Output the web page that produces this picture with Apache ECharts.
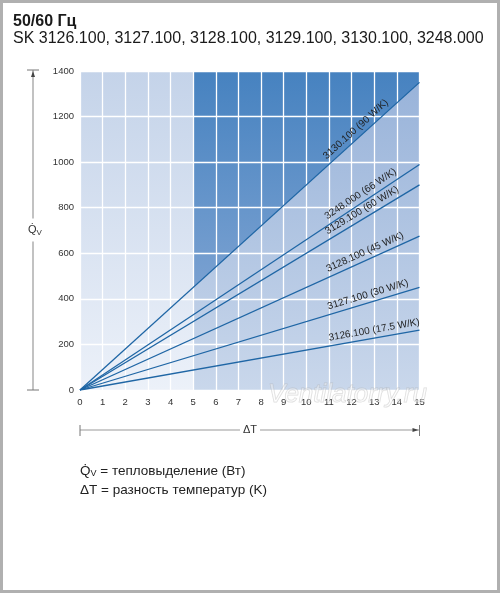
<!DOCTYPE html>
<html><head><meta charset="utf-8">
<script src="https://cdn.jsdelivr.net/npm/echarts@6/dist/echarts.min.js"></script>
<style>html,body{margin:0;padding:0;background:#fff}#c{width:500px;height:593px}</style>
</head><body><div id="c"></div>
<script>
// ---- data ----
const deltaTRange = [0, 15];                      // ΔT (K)
const modelNames = ['3126.100', '3127.100', '3128.100', '3129.100', '3248.000', '3130.100'];
const wattsPerKelvin = ['17.5', '30', '45', '60', '66', '90'];
const heatAtStart = [0, 0, 0, 0, 0, 0];          // Q̇v at ΔT = 0
const heatAtEnd = [262.5, 450, 675, 900, 990, 1350]; // Q̇v at ΔT = 15
const darkZoneEdge = [[5, 450], [15, 1350]];      // upper dark zone, bounded by 3130.100 line
const xTicks = [0, 1, 2, 3, 4, 5, 6, 7, 8, 9, 10, 11, 12, 13, 14, 15];
const yTicks = [0, 200, 400, 600, 800, 1000, 1200, 1400];
const labelDeltaT = 11.05;

const FONT = "'Liberation Sans', Arial, Helvetica, sans-serif";
const LINE_COLOR = '#1f66a5';
const chart = echarts.init(document.getElementById('c'), null, {renderer: 'canvas'});

function grad(c0, c1) {
  return {type: 'linear', x: 0, y: 0, x2: 0, y2: 1, colorStops: [{offset: 0, color: c0}, {offset: 1, color: c1}]};
}

function buildOption(angles, px) {
  const lineSeries = modelNames.map((name, i) => ({
    type: 'line', name: name, z: 4, silent: true, symbol: 'none',
    data: [[deltaTRange[0], heatAtStart[i]], [deltaTRange[1], heatAtEnd[i]]],
    lineStyle: {color: LINE_COLOR, width: 1.3},
    markPoint: {
      symbol: 'circle', symbolSize: 0, z: 6, silent: true,
      data: [{
        coord: [labelDeltaT, heatAtStart[i] + (heatAtEnd[i] - heatAtStart[i]) * (labelDeltaT - deltaTRange[0]) / (deltaTRange[1] - deltaTRange[0])],
        label: {
          show: true, position: [0, 0], align: 'left', verticalAlign: 'bottom',
          rotate: angles[i], padding: [0, 0, 3, 0],
          formatter: name + ' (' + wattsPerKelvin[i] + ' W/K)',
          fontFamily: FONT, fontSize: 10, color: '#1e1e1e'
        }
      }]
    }
  }));

  const graphics = [
    {type: 'rect', shape: {x: 1.5, y: 1.5, width: 497, height: 590}, style: {fill: 'none', stroke: '#b0b0b0', lineWidth: 3}, z: 100}
  ];
  if (px) {
    const ax = 33, top = px.yTop - 1, bot = px.y0;
    const g = '#999';
    graphics.push(
      {type: 'line', shape: {x1: ax, y1: top, x2: ax, y2: bot}, style: {stroke: g, lineWidth: 1.2}},
      {type: 'line', shape: {x1: ax - 6, y1: top, x2: ax + 6, y2: top}, style: {stroke: '#777', lineWidth: 1}},
      {type: 'line', shape: {x1: ax - 6, y1: bot, x2: ax + 6, y2: bot}, style: {stroke: '#777', lineWidth: 1}},
      {type: 'polygon', shape: {points: [[ax, top + 1], [ax - 2, top + 7], [ax + 2, top + 7]]}, style: {fill: '#444'}},
      {type: 'text', x: ax + 2, y: 230, style: {
        text: '{q|Q̇}{s|V}', align: 'center', verticalAlign: 'middle', backgroundColor: '#fff', padding: [5, 2, 5, 2],
        rich: {q: {fontFamily: FONT, fontSize: 11, fill: '#333'}, s: {fontFamily: FONT, fontSize: 8, fill: '#333', padding: [5, 0, 0, 0]}}
      }},
      // ΔT arrow
      {type: 'line', shape: {x1: px.x0, y1: 430, x2: px.x15, y2: 430}, style: {stroke: g, lineWidth: 1.2}},
      {type: 'line', shape: {x1: px.x0, y1: 425, x2: px.x0, y2: 436}, style: {stroke: '#777', lineWidth: 1}},
      {type: 'line', shape: {x1: px.x15, y1: 425, x2: px.x15, y2: 436}, style: {stroke: '#777', lineWidth: 1}},
      {type: 'polygon', shape: {points: [[px.x15 - 1, 430], [px.x15 - 7, 428], [px.x15 - 7, 432]]}, style: {fill: '#444'}},
      {type: 'text', x: 250, y: 430, style: {
        text: 'ΔT', align: 'center', verticalAlign: 'middle', backgroundColor: '#fff', padding: [2, 3, 2, 3],
        font: '11px ' + FONT, fill: '#333'
      }},
      // explanations
      {type: 'text', x: px.x0, y: 471, style: {
        text: '{q|Q̇}{s|V}{t| = тепловыделение (Вт)}', verticalAlign: 'middle',
        rich: {q: {fontFamily: FONT, fontSize: 13.5, fill: '#222'}, s: {fontFamily: FONT, fontSize: 9, fill: '#222', padding: [6, 0, 0, 0]}, t: {fontFamily: FONT, fontSize: 13.5, fill: '#222'}}
      }},
      {type: 'text', x: px.x0, y: 490, style: {
        text: 'ΔT = разность температур (K)', verticalAlign: 'middle', font: '13.5px ' + FONT, fill: '#222'
      }},
      // watermark
      {type: 'text', x: 268, y: 395, z: 50, style: {
        text: 'Ventilatorry.ru', verticalAlign: 'middle', font: 'italic 26px ' + FONT,
        fill: 'rgba(255,255,255,0.35)', stroke: 'rgba(170,170,170,0.4)', lineWidth: 1
      }}
    );
  }

  return {
    animation: false,
    backgroundColor: '#fff',
    title: {
      text: '50/60 Гц',
      subtext: 'SK 3126.100, 3127.100, 3128.100, 3129.100, 3130.100, 3248.000',
      left: 8, top: 9, itemGap: 1,
      textStyle: {fontFamily: FONT, fontSize: 16, fontWeight: 'bold', color: '#1a1a1a'},
      subtextStyle: {fontFamily: FONT, fontSize: 16, color: '#1a1a1a'}
    },
    grid: {left: 80, right: 80.5, top: 71, bottom: 203, containLabel: false},
    xAxis: {
      type: 'value', min: xTicks[0], max: xTicks[xTicks.length - 1], interval: 1, z: 3,
      axisLine: {show: false}, axisTick: {show: false},
      axisLabel: {fontFamily: FONT, fontSize: 9.5, color: '#333', margin: 7,
        formatter: v => String(v)},
      splitLine: {show: true, lineStyle: {color: '#fff', width: 1.3}}
    },
    yAxis: {
      type: 'value', min: yTicks[0], max: yTicks[yTicks.length - 1], interval: 200, z: 3,
      axisLine: {show: false}, axisTick: {show: false},
      axisLabel: {fontFamily: FONT, fontSize: 9.5, color: '#333', margin: 6,
        formatter: v => String(v)},
      splitLine: {show: true, lineStyle: {color: '#fff', width: 1.3}}
    },
    series: [
      {
        type: 'line', z: 2, silent: true, symbol: 'none',
        data: darkZoneEdge,
        lineStyle: {width: 0},
        areaStyle: {origin: 'end', opacity: 1, color: grad('#4682c0', '#7aa1d1')},
        markArea: {
          silent: true, z: 1,
          data: [
            [{xAxis: 0, yAxis: 0, itemStyle: {color: grad('#c4d3e9', '#ecf1f9')}}, {xAxis: 5, yAxis: 1400}],
            [{xAxis: 5, yAxis: 0, itemStyle: {color: grad('#97b2d9', '#c9d7eb')}}, {xAxis: 15, yAxis: 1400}]
          ]
        }
      }
    ].concat(lineSeries),
    graphic: {elements: graphics}
  };
}

chart.setOption(buildOption(modelNames.map(() => 0), null));
const p0 = chart.convertToPixel({gridIndex: 0}, [deltaTRange[0], 0]);
const pTop = chart.convertToPixel({gridIndex: 0}, [deltaTRange[1], 1400]);
const angles = modelNames.map((n, i) => {
  const a = chart.convertToPixel({gridIndex: 0}, [deltaTRange[0], heatAtStart[i]]);
  const b = chart.convertToPixel({gridIndex: 0}, [deltaTRange[1], heatAtEnd[i]]);
  return Math.atan2(a[1] - b[1], b[0] - a[0]) * 180 / Math.PI;
});
chart.setOption(buildOption(angles, {x0: p0[0], y0: p0[1], x15: pTop[0], yTop: pTop[1]}), true);
</script>
</body></html>
